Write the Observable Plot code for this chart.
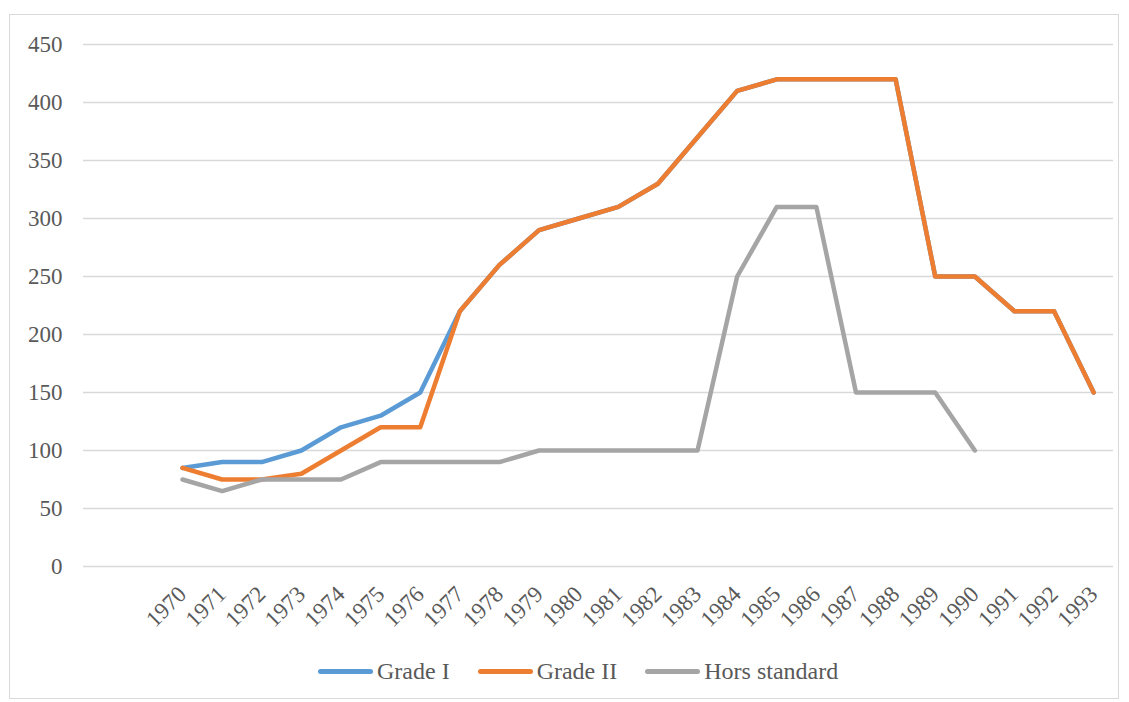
<!DOCTYPE html>
<html>
<head>
<meta charset="utf-8">
<script src="https://cdn.jsdelivr.net/npm/d3@7"></script>
<script src="https://cdn.jsdelivr.net/npm/@observablehq/plot@0.6"></script>
<style>
  body { margin: 0; background: #fff; font-family: "Liberation Serif", "Times New Roman", serif; }
  #frame { position: absolute; left: 9px; top: 14px; width: 1110px; height: 685px; border: 1px solid #d9d9d9; box-sizing: border-box; }
  #chart { position: absolute; left: 0; top: 0; }
  #chart svg text { font-family: "Liberation Serif", serif !important; }
  #legend { position: absolute; left: 318px; top: 656px; display: flex; align-items: center; font-family: "Liberation Serif", serif; font-size: 24px; color: #595959; line-height: 30px; }
  .item { display: flex; align-items: center; margin-right: 28px; }
  .sw { width: 55px; height: 5px; border-radius: 3px; margin-right: 4px; }
</style>
</head>
<body>
<div id="frame"></div>
<div id="chart"></div>
<div id="legend"></div>
<script>
const years = [1970,1971,1972,1973,1974,1975,1976,1977,1978,1979,1980,1981,1982,1983,1984,1985,1986,1987,1988,1989,1990,1991,1992,1993];
const seriesNames = ["Grade I", "Grade II", "Hors standard"];
const seriesColors = ["#5B9BD5", "#ED7D31", "#A5A5A5"];
const gradeI = [85,90,90,100,120,130,150,220,260,290,300,310,330,370,410,420,420,420,420,250,250,220,220,150];
const gradeII = [85,75,75,80,100,120,120,220,260,290,300,310,330,370,410,420,420,420,420,250,250,220,220,150];
const horsStandard = [75,65,75,75,75,90,90,90,90,100,100,100,100,100,250,310,310,150,150,150,100,null,null,null];
const yTicks = [0,50,100,150,200,250,300,350,400,450];

const rows = [];
[gradeI, gradeII, horsStandard].forEach((vals, i) => {
  vals.forEach((v, j) => {
    if (v !== null) rows.push({year: years[j], value: v, series: seriesNames[i]});
  });
});

const chart = Plot.plot({
  width: 1129,
  height: 640,
  marginLeft: 83,
  marginRight: 16,
  marginTop: 44,
  marginBottom: 74,
  style: {fontFamily: "'Liberation Serif', serif", fontSize: "23px", color: "#595959", background: "transparent"},
  x: {type: "linear", domain: [1967.5, 1993.5]},
  y: {domain: [0, 450]},
  color: {domain: seriesNames, range: seriesColors},
  marks: [
    Plot.gridY(yTicks, {stroke: "#d9d9d9", strokeOpacity: 1, strokeWidth: 1.3}),
    Plot.axisY(yTicks, {tickSize: 0, tickPadding: 21, label: null, fill: "#595959", fontSize: 23}),
    Plot.axisX(years, {tickSize: 0, tickPadding: 24, tickRotate: -45, tickFormat: d => String(d), label: null, fill: "#595959", fontSize: 23}),
    Plot.line(rows, {x: "year", y: "value", stroke: "series", z: "series", strokeWidth: 4.5, strokeLinejoin: "round", strokeLinecap: "round"})
  ]
});
d3.select(chart).selectAll("text").style("font-family", "'Liberation Serif', serif").style("font-variant", "normal");
document.getElementById("chart").appendChild(chart);

const legend = document.getElementById("legend");
seriesNames.forEach((name, i) => {
  const item = document.createElement("div");
  item.className = "item";
  const sw = document.createElement("div");
  sw.className = "sw";
  sw.style.background = seriesColors[i];
  const label = document.createElement("span");
  label.textContent = name;
  item.appendChild(sw);
  item.appendChild(label);
  legend.appendChild(item);
});
</script>
</body>
</html>
